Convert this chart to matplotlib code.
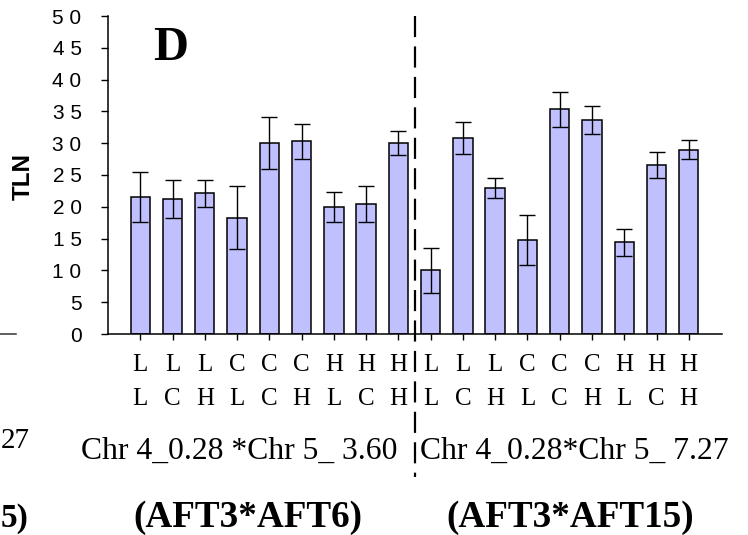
import matplotlib
matplotlib.use("Agg")
import matplotlib.pyplot as plt
from matplotlib.lines import Line2D
from matplotlib.transforms import blended_transform_factory

# TLN means and error bars for the 18 treatment combinations
tln = [21.5, 21.2, 22.1, 18.3, 30.0, 30.3, 20.0, 20.4, 30.0,
       10.0, 30.8, 23.0, 14.8, 35.3, 33.7, 14.4, 26.6, 29.0]
tln_err = [3.9, 3.0, 2.15, 4.95, 4.1, 2.75, 2.35, 2.8, 1.9,
           3.5, 2.55, 1.55, 3.9, 2.8, 2.2, 2.1, 2.0, 1.55]
row1 = ["L", "L", "L", "C", "C", "C", "H", "H", "H"] * 2
row2 = ["L", "C", "H"] * 6
yticks = [0, 5, 10, 15, 20, 25, 30, 35, 40, 45, 50]
ytick_labels = [" ".join(str(v)) for v in yticks]
qtl_labels = ["Chr 4_0.28 *Chr 5_ 3.60", "Chr 4_0.28*Chr 5_ 7.27"]
cross_labels = ["(AFT3*AFT6)", "(AFT3*AFT15)"]

W, H = 748, 535
fig = plt.figure(figsize=(W / 100, H / 100), dpi=100)
ax = fig.add_axes([108 / W, (H - 334) / H, (722 - 108) / W, 318 / H])

x = list(range(len(tln)))
ax.bar(x, tln, width=0.6, color="#C0C0FF", edgecolor="black", linewidth=1.1, zorder=2)
ax.errorbar(x, tln, yerr=tln_err, fmt="none", ecolor="black", elinewidth=1.0,
            capsize=6, capthick=1.0, zorder=3)

ax.set_xlim(-1.0, 18.03)
ax.set_ylim(0, 50)
ax.set_yticks(yticks)
ax.set_yticklabels(ytick_labels, family="Liberation Sans", fontsize=15, color="black")
ax.tick_params(axis="y", direction="out", length=5, width=1, pad=14)
ax.set_xticks(x)
ax.set_xticklabels([])
ax.tick_params(axis="x", direction="out", length=4, width=1)
for s in ["top", "right"]:
    ax.spines[s].set_visible(False)
for s in ["left", "bottom"]:
    ax.spines[s].set_linewidth(1.1)

fig.text(23 / W, (H - 177) / H, "TLN", rotation=90, ha="center", va="center",
         family="Liberation Sans", fontweight="bold", fontsize=17.5)

# dashed divider between the two crosses
ax.plot([8.5, 8.5], [50, -22.5], color="black", linewidth=1.6,
        linestyle=(0, (9.5, 4.2)), clip_on=False, zorder=4)

trans = blended_transform_factory(ax.transData, fig.transFigure)
for i, (a, b) in enumerate(zip(row1, row2)):
    ax.text(i, (H - 371) / H, a, transform=trans, ha="center", va="baseline",
            family="Liberation Serif", fontsize=18)
    ax.text(i, (H - 405) / H, b, transform=trans, ha="center", va="baseline",
            family="Liberation Serif", fontsize=18)

fig.text(81 / W, (H - 459) / H, qtl_labels[0], ha="left", va="baseline",
         family="Liberation Serif", fontsize=22.8)
fig.text(420 / W, (H - 459) / H, qtl_labels[1], ha="left", va="baseline",
         family="Liberation Serif", fontsize=22.8)
fig.text(247.5 / W, (H - 527) / H, cross_labels[0], ha="center", va="baseline",
         family="Liberation Serif", fontweight="bold", fontsize=26.7)
fig.text(570 / W, (H - 527) / H, cross_labels[1], ha="center", va="baseline",
         family="Liberation Serif", fontweight="bold", fontsize=26.7)

# panel letter
fig.text(153 / W, (H - 60) / H, "D", ha="left", va="baseline",
         family="Liberation Serif", fontweight="bold", fontsize=35)

# pieces of the neighbouring panel at the left edge
fig.add_artist(Line2D([0, 16 / W], [(H - 334) / H] * 2, color="#333333", linewidth=1.1))
fig.text(1 / W, (H - 448) / H, "27", ha="left", va="baseline",
         family="Liberation Serif", fontsize=21)
fig.text(1 / W, (H - 527) / H, "5)", ha="left", va="baseline",
         family="Liberation Serif", fontweight="bold", fontsize=24)

fig.savefig("out.png", dpi=100)
